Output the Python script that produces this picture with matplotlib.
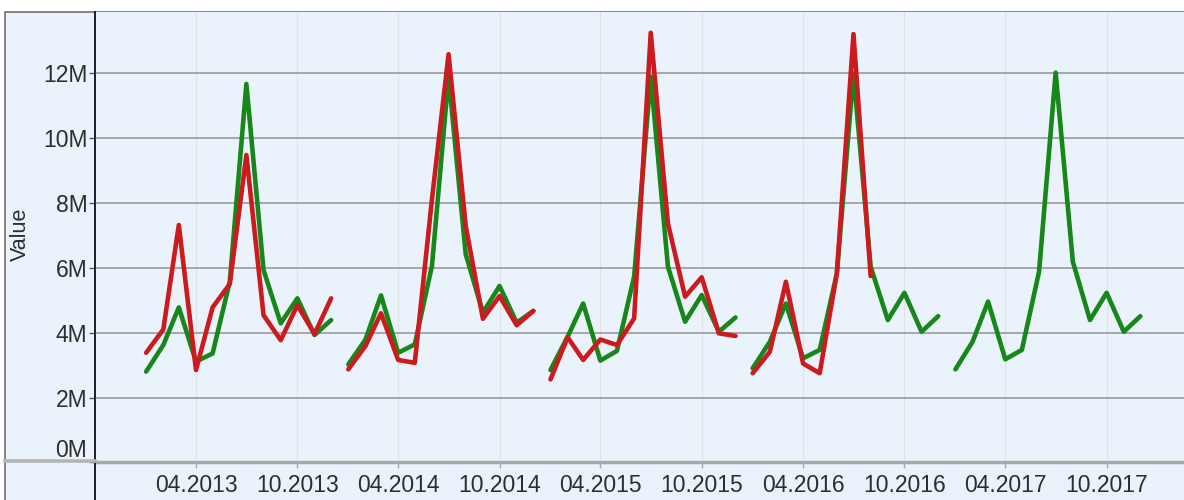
from datetime import datetime

import matplotlib
matplotlib.use("Agg")
import matplotlib.pyplot as plt
import matplotlib.dates as mdates
from matplotlib.patches import Rectangle
from matplotlib.lines import Line2D
from matplotlib.ticker import FuncFormatter

plt.rcParams['font.family'] = ['Liberation Sans', 'DejaVu Sans']

# Monatswerte je Jahr (Jan..Dez), in Millionen
years = [2013, 2014, 2015, 2016, 2017]
green_values = [
    [2.80, 3.62, 4.78, 3.11, 3.36, 5.57, 11.67, 5.93, 4.29, 5.06, 3.93, 4.39],
    [3.02, 3.79, 5.15, 3.38, 3.64, 6.06, 11.90, 6.42, 4.62, 5.44, 4.31, 4.67],
    [2.85, 3.88, 4.90, 3.14, 3.44, 5.73, 11.90, 6.04, 4.34, 5.16, 4.03, 4.47],
    [2.90, 3.72, 4.90, 3.21, 3.47, 5.83, 12.00, 6.04, 4.39, 5.23, 4.03, 4.51],
    [2.87, 3.72, 4.96, 3.18, 3.47, 5.88, 12.02, 6.19, 4.39, 5.23, 4.03, 4.51],
]
red_values = [
    [3.38, 4.10, 7.32, 2.85, 4.78, 5.50, 9.48, 4.54, 3.77, 4.85, 3.96, 5.06],
    [2.87, 3.59, 4.60, 3.16, 3.07, 8.11, 12.59, 7.29, 4.43, 5.13, 4.23, 4.67],
    [2.56, 3.86, 3.16, 3.79, 3.62, 4.44, 13.25, 7.37, 5.11, 5.71, 3.98, 3.90],
    [2.75, 3.41, 5.57, 3.05, 2.75, 5.83, 13.21, 5.75],
    [],
]
tick_dates = [datetime(y, m, 1) for y in years for m in (4, 10)]

GREEN = '#17871a'
RED = '#cc1b1f'
BG = '#eaf2fb'
W, H = 1184, 500

fig = plt.figure(figsize=(W / 100, H / 100), dpi=100, facecolor='white')

# Hintergrund-Panel mit Rahmen oben und links
fig.patches.append(Rectangle((5 / W, -0.2), 1.3, 0.2 + (H - 12) / H,
                             transform=fig.transFigure, facecolor=BG,
                             edgecolor='#6f6f6f', linewidth=1.2, zorder=-5))

ax = fig.add_axes([95 / W, 37.6 / H, (W - 95) / W, 450.7 / H])
ax.set_facecolor(BG)

for i, year in enumerate(years):
    g = green_values[i]
    r = red_values[i]
    if g:
        xs = [datetime(year, m + 1, 1) for m in range(len(g))]
        ax.plot(xs, [v * 1e6 for v in g], color=GREEN, lw=3.3,
                solid_capstyle='round', solid_joinstyle='round', zorder=3)
    if r:
        xs = [datetime(year, m + 1, 1) for m in range(len(r))]
        ax.plot(xs, [v * 1e6 for v in r], color=RED, lw=3.3,
                solid_capstyle='round', solid_joinstyle='round', zorder=4)

x0 = mdates.date2num(datetime(2013, 4, 1))
ax.set_xlim(x0 - 182.3, x0 + 1783.7)
ax.set_ylim(0, 13.9e6)

ax.set_yticks([v * 1e6 for v in range(0, 13, 2)])
ax.yaxis.set_major_formatter(FuncFormatter(lambda v, p: f"{v / 1e6:.0f}M"))
ax.set_xticks(tick_dates)
ax.xaxis.set_major_formatter(mdates.DateFormatter('%m.%Y'))

ax.tick_params(axis='y', length=4, width=1, color='#555555', pad=1.5,
               labelsize=16.5, labelcolor='#2e2e2e')
ax.tick_params(axis='x', length=4, width=1, color='#aaaaaa', pad=4.5,
               labelsize=16.5, labelcolor='#2e2e2e')
ax.yaxis.get_major_ticks()[0].label1.set_va('bottom')

ax.grid(axis='y', color='#9a9a9a', lw=1.2)
ax.grid(axis='x', color='#e2e2e2', lw=0.8)
ax.set_axisbelow(True)

for s in ('top', 'right'):
    ax.spines[s].set_visible(False)
ax.spines['left'].set_color('#1c1c2c')
ax.spines['left'].set_linewidth(1.4)
ax.spines['bottom'].set_color('#a8a8a8')
ax.spines['bottom'].set_linewidth(2.5)

ax.set_ylabel('Value', fontsize=15.5, color='#2e2e2e')
ax.yaxis.set_label_coords(-0.0585, 0.505)

# Achsenlinie nach unten verlängert, graue Linie links unten
fig.add_artist(Line2D([95 / W, 95 / W], [0, 38 / H], color='#1c1c2c', lw=1.4))
fig.add_artist(Line2D([5 / W, 95 / W], [39.5 / H, 39.5 / H], color='#b5b5b5', lw=2.6))

fig.savefig('out.png', dpi=100, facecolor='white')
